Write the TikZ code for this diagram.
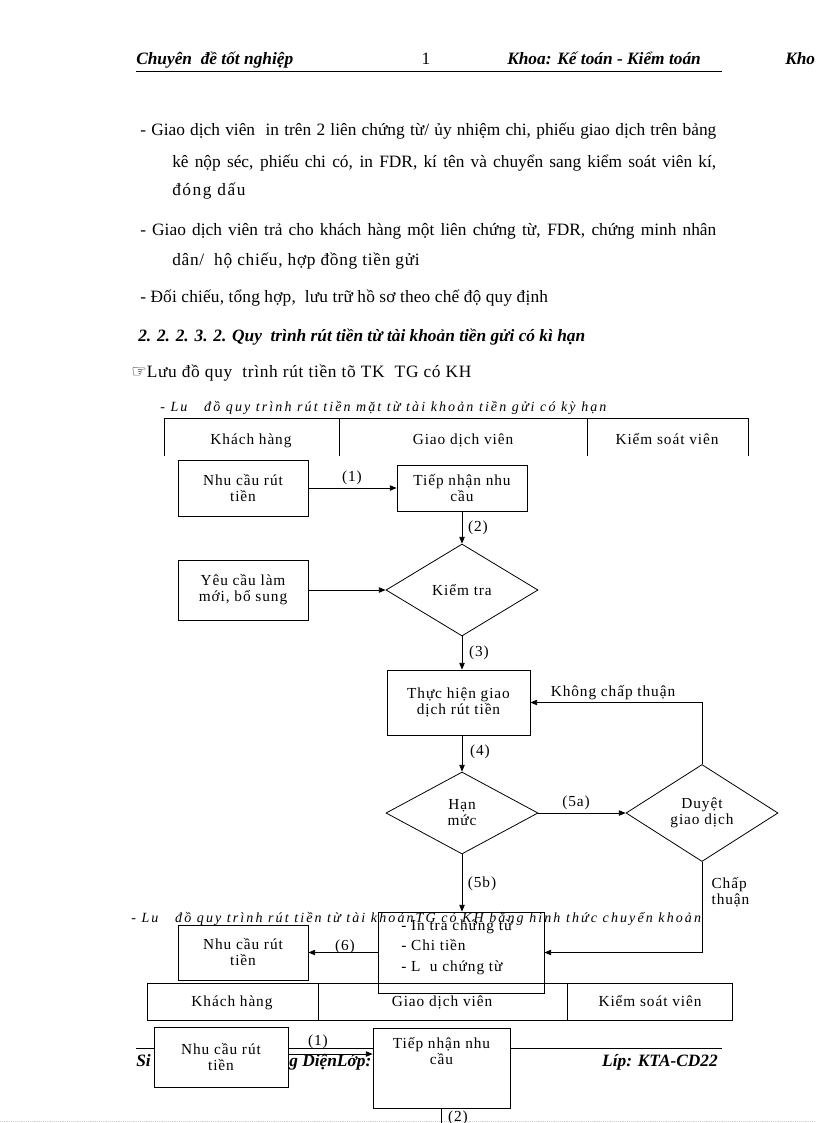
\documentclass[tikz,border=0pt]{standalone}
\usepackage{fontspec}
\setmainfont{Liberation Serif}
\newfontfamily\symfont{DejaVu Sans}
\newfontfamily\chartfont[LetterSpace=6]{Liberation Serif}
\newfontfamily\capfont[LetterSpace=15]{Liberation Serif}
\usetikzlibrary{positioning, arrows.meta, shapes.geometric}
\newlength\pxu
\setlength\pxu{0.75pt}

\begin{document}
\begin{tikzpicture}[
    x=0.75pt, y=-0.75pt,
    box/.style={draw, fill=white, line width=0.6pt, align=center, inner sep=1pt,
        font=\chartfont\fontsize{11.5}{12}\selectfont},
    dec/.style={diamond, draw, fill=white, line width=0.6pt, align=center, inner sep=0pt,
        font=\chartfont\fontsize{11.5}{12}\selectfont},
    arr/.style={-{Triangle[length=5pt, width=4pt]}, line width=0.6pt},
    lab/.style={inner sep=1pt, font=\chartfont\fontsize{11.5}{12}\selectfont},
    lanelab/.style={lab, anchor=base},
    body/.style={anchor=base west, inner sep=0pt, font=\fontsize{13}{15}\selectfont},
    capt/.style={anchor=base west, inner sep=0pt, font=\capfont\itshape\fontsize{10.5}{12}\selectfont},
    hdr/.style={anchor=base west, inner sep=0pt, font=\bfseries\itshape\fontsize{13}{15}\selectfont},
    lane/.style={line width=0.6pt}
]
    \useasboundingbox (0,0) rectangle (816,1123);

    % page header
    \node[hdr] (hdleft) at (136,65) {Chuyên\ \ đề tốt nghiệp};
    \node[anchor=base, inner sep=0pt, font=\fontsize{13}{15}\selectfont] (hdnum) at (426,65) {1};
    \node[hdr] (hdright) at (507,65) {Khoa: Kế toán - Kiểm toán};
    \node[hdr] (hdcut) at (785,65) {Kho};
    \draw[line width=0.6pt] (136,71) -- (722,71);

    % text
    \node[body] (t1) at (140,136) {\makebox[576\pxu][s]{- Giao dịch viên\ \ in trên 2 liên chứng từ/ ủy nhiệm chi, phiếu giao dịch trên bảng}};
    \node[body] (t2) at (172,168) {\makebox[544\pxu][s]{kê nộp séc, phiếu chi có, in FDR, kí tên và chuyển sang kiểm soát viên kí,}};
    \node[body] (t3) at (172,196) {\addfontfeature{LetterSpace=9}đóng dấu};
    \node[body] (t4) at (140,235) {\makebox[576\pxu][s]{- Giao dịch viên trả cho khách hàng một liên chứng từ, FDR, chứng minh nhân}};
    \node[body] (t5) at (172,265) {\addfontfeature{LetterSpace=4}dân/\ \ hộ chiếu, hợp đồng tiền gửi};
    \node[body] (t6) at (140,302) {\addfontfeature{LetterSpace=1}- Đối chiếu, tổng hợp,\ \ lưu trữ hồ sơ theo chế độ quy định};
    \node[body, font=\bfseries\itshape\fontsize{13}{15}\selectfont] (head) at (138,341) {2. 2. 2. 3. 2. Quy\ \ trình rút tiền từ tài khoản tiền gửi có kì hạn};
    \node[body] (t7) at (131,377) {{\symfont\fontsize{13}{15}\selectfont ☞}\addfontfeature{LetterSpace=4}Lưu đồ quy\ \ trình rút tiền tõ TK\ \ TG có KH};
    \node[capt] (cap1) at (160,411) {- Lu\ \ \ đồ quy trình rút tiền mặt từ tài khoản tiền gửi có kỳ hạn};

    % lanes, first chart
    \draw[lane] (164,456) -- (164,418) -- (748,418) -- (748,456);
    \draw[lane] (339,418) -- (339,456);
    \draw[lane] (587,418) -- (587,456);
    \node[lanelab] (ln1) at (251,444) {Khách hàng};
    \node[lanelab] (ln2) at (463,444) {Giao dịch viên};
    \node[lanelab] (ln3) at (667,444) {Kiểm soát viên};

    % first chart
    \node[box, minimum width=130\pxu, minimum height=56\pxu] (kh1) at (243,488) {Nhu cầu rút\\tiền};
    \node[box, minimum width=130\pxu, minimum height=46\pxu] (tn1) at (462,488) {Tiếp nhận nhu\\cầu};
    \node[box, minimum width=130\pxu, minimum height=60\pxu] (yc) at (243,590) {Yêu cầu làm\\mới, bổ sung};
    \node[dec, minimum width=152\pxu, minimum height=92\pxu] (kt) at (462,590) {Kiểm tra};
    \node[box, minimum width=143\pxu, minimum height=65\pxu] (th) at (458.5,702.5) {Thực hiện giao\\dịch rút tiền};
    \node[dec, minimum width=152\pxu, minimum height=82\pxu] (hm) at (462,813) {Hạn\\mức};
    \node[dec, minimum width=152\pxu, minimum height=97\pxu] (dg) at (702,813) {Duyệt\\giao dịch};
    \node[box, minimum width=166\pxu, minimum height=81\pxu] (ct) at (461,952.5) {};
    \node[anchor=west, align=left, inner sep=0pt, font=\chartfont\fontsize{11.5}{15.4}\selectfont] (ctt) at (401,947) {- In tra chứng từ\\- Chi tiền\\- L\ \ u chứng từ};
    \node[box, minimum width=130\pxu, minimum height=55\pxu] (kh2) at (243,952.5) {Nhu cầu rút\\tiền};

    \draw[arr] (kh1.east) -- (kh1.east -| tn1.west);
    \draw[arr] (tn1.south) -- (kt.north);
    \draw[arr] (yc.east) -- (kt.west);
    \draw[arr] (kt.south) -- (kt.south |- th.north);
    \draw[arr] (hm.north |- th.south) -- (hm.north);
    \draw[arr] (hm.east) -- (dg.west);
    \draw[arr] (dg.north) |- (th.east);
    \draw[arr] (hm.south) -- (hm.south |- ct.north);
    \draw[arr] (dg.south) |- (ct.east);
    \draw[arr] (ct.west) -- (kh2.east);

    \node[lab] (l1) at (352,478) {(1)};
    \node[lab] (l2) at (478,528) {(2)};
    \node[lab] (l3) at (479,653) {(3)};
    \node[lab] (l4) at (480,752) {(4)};
    \node[lab] (l5a) at (576,803) {(5a)};
    \node[lab] (l5b) at (482,884) {(5b)};
    \node[lab] (l6) at (345,947) {(6)};
    \node[lab] (lno) at (613,693) {Không chấp thuận};
    \node[lab, anchor=north west, align=left] (lyes) at (710,876) {Chấp\\thuận};

    \node[capt] (cap2) at (131,922) {- Lu\ \ \ đồ quy trình rút tiền từ tài khoảnTG có KH bằng hình thức chuyển khoản};

    % lanes, second chart
    \draw[lane] (147,983) rectangle (732,1020);
    \draw[lane] (318,983) -- (318,1020);
    \draw[lane] (567,983) -- (567,1020);
    \node[lanelab] (lm1) at (232,1006) {Khách hàng};
    \node[lanelab] (lm2) at (442,1006) {Giao dịch viên};
    \node[lanelab] (lm3) at (650,1006) {Kiểm soát viên};

    % page footer
    \draw[line width=0.6pt] (136,1048) -- (722,1048);
    \node[hdr] (ftl) at (136,1066) {Si};
    \node[hdr] (ftm) at (289,1066) {g DiệnLớp:};
    \node[hdr, anchor=base east] (ftr) at (718,1066) {Líp: KTA-CD22};
    \draw[densely dotted, gray!35] (0,1121) -- (816,1121);

    % second chart
    \node[box, minimum width=134\pxu, minimum height=60\pxu] (kh3) at (221,1057) {Nhu cầu rút\\tiền};
    \node[box, minimum width=137\pxu, minimum height=80\pxu,
        label={[lab, anchor=north, align=center, yshift=-6pt]north:Tiếp nhận nhu\\cầu}] (tn3) at (441.5,1068) {};
    \coordinate (tn3end) at (441.5,1130);
    \draw[arr] ([yshift=2.25pt]kh3.east) -- ([yshift=2.25pt]kh3.east -| tn3.west);
    \draw[line width=0.6pt] (tn3.south) -- (tn3end);
    \node[lab] (m1) at (318,1042) {(1)};
    \node[lab] (m2) at (458,1118) {(2)};
\end{tikzpicture}
\end{document}
